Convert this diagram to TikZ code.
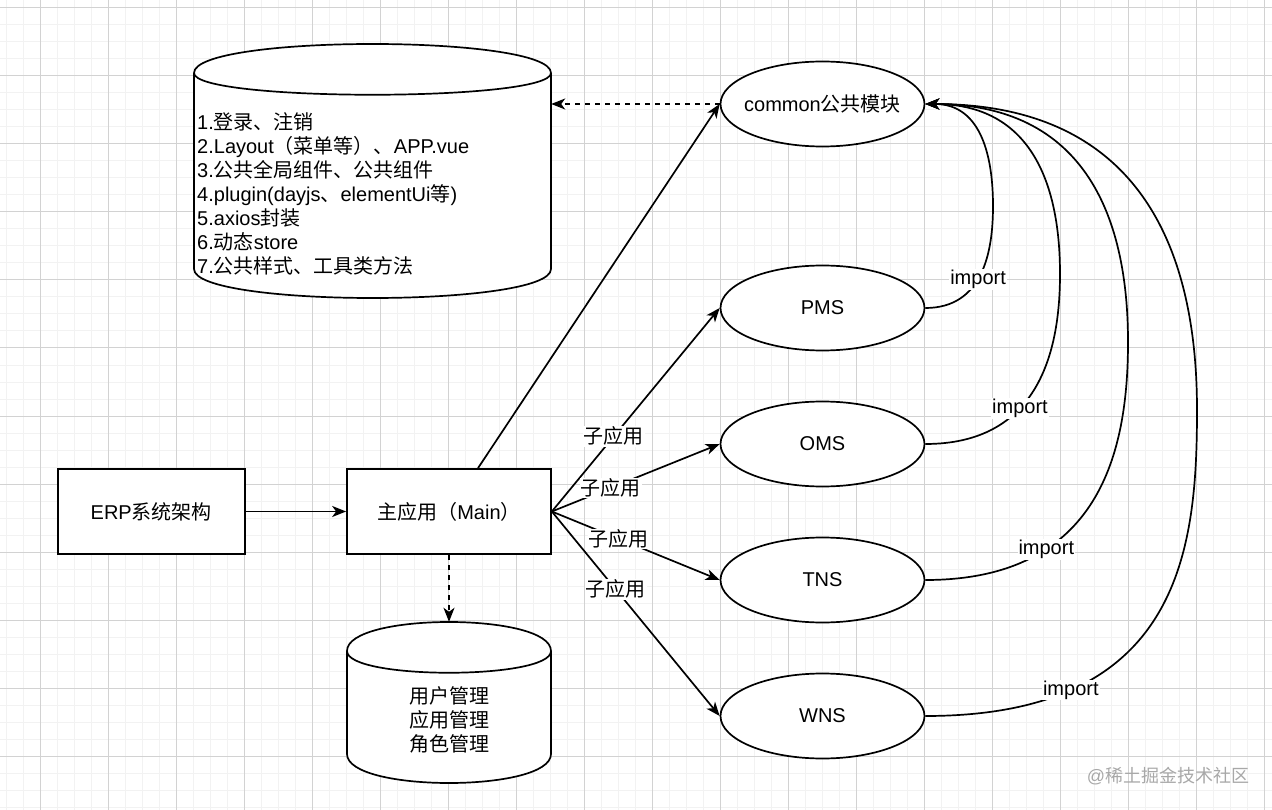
\documentclass[tikz,border=0pt]{standalone}
\usepackage{fontspec}
\setmainfont{Liberation Sans}
\newfontfamily\cjk{Noto Sans CJK SC}
\usetikzlibrary{arrows.meta,shapes.geometric}
\newcommand{\zh}[1]{{\cjk #1}}
\definecolor{gridmajor}{HTML}{D2D2D2}
\definecolor{gridminor}{HTML}{F2F2F2}
\definecolor{wmgray}{HTML}{A8A8A8}
\newcommand{\drawcyl}[4]{%
  \draw[base, fill=white] (#1,#2+29) .. controls (#1,#2-9.67) and (#1+#3,#2-9.67) .. (#1+#3,#2+29)
     -- (#1+#3,#2+#4-29) .. controls (#1+#3,#2+#4+9.67) and (#1,#2+#4+9.67) .. (#1,#2+#4-29) -- cycle;
  \draw[base] (#1,#2+29) .. controls (#1,#2+58) and (#1+#3,#2+58) .. (#1+#3,#2+29);}
\tikzset{
  base/.style={line width=1.7pt, draw=black},
  txt/.style={font=\fontsize{20pt}{24pt}\selectfont},
  box/.style={base, txt, fill=white, rectangle, minimum height=85pt, inner sep=0pt},
  oval/.style={base, txt, fill=white, ellipse, minimum width=204pt, minimum height=85pt, inner xsep=-20pt, inner ysep=0pt},
  arr/.style={line width=1.7pt, -{Stealth[length=14pt,width=11pt,inset=4pt]}},
  darr/.style={arr, dash pattern=on 5pt off 5pt},
  lbl/.style={txt, fill=white, inner sep=1pt},
  hidden/.style={inner sep=0pt, draw=none}
}
\begin{document}
\begin{tikzpicture}[x=1pt,y=-1pt]
\useasboundingbox (0,0) rectangle (1272,810);
\fill[white] (0,0) rectangle (1272,810);
% grid
\foreach \x in {6,23,...,1272} \draw[gridminor, line width=1pt] (\x,0) -- (\x,810);
\foreach \y in {8,25,...,810} \draw[gridminor, line width=1pt] (0,\y) -- (1272,\y);
\foreach \x in {40,108,...,1272} \draw[gridmajor, line width=1pt] (\x,0) -- (\x,810);
\foreach \y in {8,76,...,810} \draw[gridmajor, line width=1pt] (0,\y) -- (1272,\y);

% cylinders
\drawcyl{194}{44}{357}{254}
\node[hidden, minimum width=357pt, minimum height=254pt] (db1) at (372.5,171) {};
\node[txt, anchor=west, align=left, inner sep=0pt] (list) at (197,194)
  {1.\zh{登录、注销}\\
   2.Layout\zh{（菜单等）、}APP.vue\\
   3.\zh{公共全局组件、公共组件}\\
   4.plugin(dayjs\zh{、}elementUi\zh{等})\\
   5.axios\zh{封装}\\
   6.\zh{动态}store\\
   7.\zh{公共样式、工具类方法}};

\drawcyl{347}{622}{204}{161}
\node[hidden, minimum width=204pt, minimum height=161pt] (db2) at (449,702.5) {};
\node[txt, align=center, inner sep=0pt] (roles) at (449,720)
  {\zh{用户管理}\\\zh{应用管理}\\\zh{角色管理}};

% boxes
\node[box, minimum width=187pt] (erp) at (151.25,511.5) {ERP\zh{系统架构}};
\node[box, minimum width=204pt] (main) at (449,511.5) {\zh{主应用（}Main\zh{）}};

% ellipses
\node[oval] (common) at (822.5,104) {common\zh{公共模块}};
\node[oval] (pms) at (822.5,308) {PMS};
\node[oval] (oms) at (822.5,444) {OMS};
\node[oval] (tns) at (822.5,580) {TNS};
\node[oval] (wns) at (822.5,716) {WNS};

% connectors
\draw[arr] (erp) -- (main);
\draw[darr] (main.south) -- (db2.north);
\draw[darr] (common.west) -- (db1.east |- common.west);
\draw[arr] ([xshift=29pt]main.north) -- (common.west);
\draw[arr] (main.east) -- node[lbl, pos=0.37] {\zh{子应用}} (pms.west);
\draw[arr] (main.east) -- node[lbl, pos=0.35] {\zh{子应用}} (oms.west);
\draw[arr] (main.east) -- node[lbl, pos=0.40] {\zh{子应用}} (tns.west);
\draw[arr] (main.east) -- node[lbl, pos=0.38] {\zh{子应用}} (wns.west);

% import curves
\draw[arr] (pms.east) .. controls +(57,0) and +(0,47) .. (993,206) node[lbl, pos=0.46] {import}
  .. controls +(0,-47) and +(57,0) .. (common.east);
\draw[arr] (oms.east) .. controls +(113,0) and +(0,78) .. (1060,274) node[lbl, pos=0.39] {import}
  .. controls +(0,-78) and +(113,0) .. (common.east);
\draw[arr] (tns.east) .. controls +(175,0) and +(0,109) .. (1128,342) node[lbl, pos=0.3] {import}
  .. controls +(0,-109) and +(170,0) .. (common.east);
\draw[arr] (wns.east) .. controls +(255,0) and +(0,141) .. (1197,410) node[lbl, pos=0.24] {import}
  .. controls +(0,-141) and +(228,0) .. (common.east);

% watermark
\node[text=wmgray, font=\fontsize{18pt}{20pt}\selectfont, inner sep=0pt] (wm) at (1168,776) {@\zh{稀土掘金技术社区}};
\end{tikzpicture}
\end{document}
